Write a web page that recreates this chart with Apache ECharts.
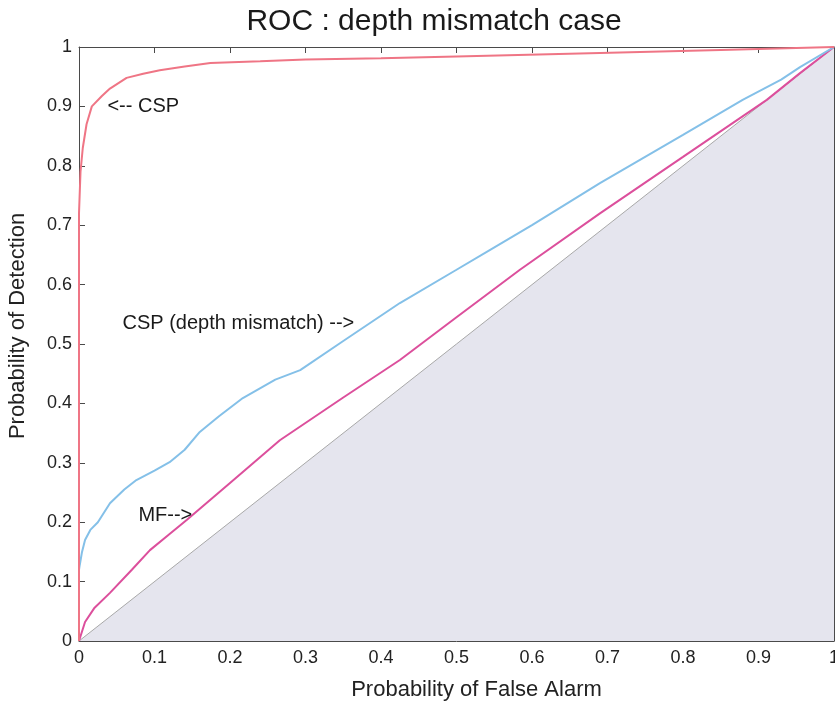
<!DOCTYPE html>
<html>
<head>
<meta charset="utf-8">
<script src="https://cdn.jsdelivr.net/npm/echarts@6/dist/echarts.min.js"></script>
<style>
html,body{margin:0;padding:0;background:#fff;}
#chart{width:835px;height:708px;}
</style>
</head>
<body>
<div id="chart"></div>
<script>
// ---- data ----
const titleText = 'ROC : depth mismatch case';
const xName = 'Probability of False Alarm';
const yName = 'Probability of Detection';

const cspX = [0, 0, 0.002, 0.005, 0.01, 0.017, 0.03, 0.041, 0.063, 0.085, 0.107, 0.14, 0.174, 0.24, 0.3, 0.4, 0.5, 0.69, 0.85, 1];
const cspY = [0, 0.72, 0.79, 0.83, 0.87, 0.9, 0.917, 0.93, 0.948, 0.955, 0.961, 0.967, 0.973, 0.976, 0.979, 0.981, 0.984, 0.99, 0.995, 1];

const mismatchX = [0, 0.001, 0.004, 0.008, 0.015, 0.025, 0.041, 0.06, 0.076, 0.1, 0.12, 0.14, 0.16, 0.185, 0.217, 0.26, 0.293, 0.35, 0.425, 0.5, 0.544, 0.6, 0.69, 0.8, 0.879, 0.93, 0.955, 1];
const mismatchY = [0.12, 0.128, 0.15, 0.17, 0.187, 0.2, 0.232, 0.255, 0.271, 0.287, 0.301, 0.322, 0.352, 0.378, 0.409, 0.44, 0.456, 0.505, 0.569, 0.625, 0.658, 0.7, 0.771, 0.852, 0.911, 0.945, 0.966, 1];

const mfX = [0, 0.008, 0.02, 0.041, 0.07, 0.094, 0.12, 0.143, 0.2, 0.266, 0.35, 0.425, 0.5, 0.584, 0.69, 0.8, 0.911, 0.955, 1];
const mfY = [0, 0.032, 0.055, 0.081, 0.12, 0.153, 0.18, 0.204, 0.266, 0.338, 0.41, 0.473, 0.545, 0.625, 0.72, 0.815, 0.911, 0.956, 1];

const chanceX = [0, 1];
const chanceY = [0, 1];

const noteText = ['<-- CSP', 'CSP (depth mismatch) -->', 'MF-->'];
const noteX = [0.037, 0.057, 0.078];
const noteY = [0.9, 0.535, 0.212];

// ---- build ----
const zip = (xs, ys) => xs.map((x, i) => [x, ys[i]]);
const FONT = '"Liberation Sans", Arial, Helvetica, sans-serif';
const axisColor = '#4a4a4a';

const chart = echarts.init(document.getElementById('chart'), null, {renderer: 'canvas'});
chart.setOption({
  backgroundColor: '#ffffff',
  animation: false,
  title: {
    text: titleText,
    left: 429,
    textAlign: 'center',
    top: 2,
    textStyle: {fontFamily: FONT, fontSize: 30, fontWeight: 'normal', color: '#1a1a1a'}
  },
  grid: {left: 79, right: 1, top: 47, bottom: 67, containLabel: false, outerBoundsMode: 'none'},
  xAxis: [{
    type: 'value', min: 0, max: 1, interval: 0.1, position: 'bottom',
    name: xName, nameLocation: 'middle', nameGap: 38,
    nameTextStyle: {fontFamily: FONT, fontSize: 22, color: '#222', padding: [0, 0, 0, 40]},
    axisLine: {show: true, onZero: false, lineStyle: {color: axisColor, width: 1}},
    axisTick: {show: true, inside: true, length: 6, lineStyle: {color: axisColor}},
    axisLabel: {fontFamily: FONT, fontSize: 18, color: '#222', margin: 8,
      formatter: v => (Math.round(v * 10) / 10).toString()},
    splitLine: {show: false}
  }, {
    type: 'value', min: 0, max: 1, interval: 0.1, position: 'top',
    axisLine: {show: true, onZero: false, lineStyle: {color: axisColor, width: 1}},
    axisTick: {show: true, inside: true, length: 6, lineStyle: {color: axisColor}},
    axisLabel: {show: false}, splitLine: {show: false}
  }],
  yAxis: [{
    type: 'value', min: 0, max: 1, interval: 0.1, position: 'left',
    name: yName, nameLocation: 'middle', nameGap: 50, nameRotate: 90,
    nameTextStyle: {fontFamily: FONT, fontSize: 22, color: '#222', padding: [0, 0, 0, 36]},
    axisLine: {show: true, onZero: false, lineStyle: {color: axisColor, width: 1}},
    axisTick: {show: true, inside: true, length: 6, lineStyle: {color: axisColor}},
    axisLabel: {fontFamily: FONT, fontSize: 18, color: '#222', margin: 7,
      formatter: v => (Math.round(v * 10) / 10).toString()},
    splitLine: {show: false}
  }, {
    type: 'value', min: 0, max: 1, interval: 0.1, position: 'right',
    axisLine: {show: true, onZero: false, lineStyle: {color: axisColor, width: 1}},
    axisTick: {show: true, inside: true, length: 6, lineStyle: {color: axisColor}},
    axisLabel: {show: false}, splitLine: {show: false}
  }],
  series: [
    {
      name: 'chance', type: 'line', data: zip(chanceX, chanceY), showSymbol: false,
      lineStyle: {color: '#a8a8a8', width: 1},
      areaStyle: {color: '#e5e5ee', opacity: 1, origin: 'start'},
      z: 1, silent: true
    },
    {
      name: 'MF', type: 'line', data: zip(mfX, mfY), showSymbol: false,
      lineStyle: {color: '#dc4f9c', width: 2}, z: 3
    },
    {
      name: 'CSP (depth mismatch)', type: 'line', data: zip(mismatchX, mismatchY), showSymbol: false,
      lineStyle: {color: '#84c0e8', width: 2}, z: 3
    },
    {
      name: 'CSP', type: 'line', data: zip(cspX, cspY), showSymbol: false,
      lineStyle: {color: '#ef7585', width: 2}, z: 4
    },
    {
      name: 'notes', type: 'scatter', symbolSize: 1, z: 5, silent: true,
      itemStyle: {color: 'rgba(0,0,0,0)'},
      data: noteText.map((t, i) => ({value: [noteX[i], noteY[i]], name: t})),
      label: {show: true, position: 'right', distance: 0, formatter: p => p.name,
        fontFamily: FONT, fontSize: 20, color: '#1a1a1a', opacity: 1}
    }
  ]
});
</script>
</body>
</html>
